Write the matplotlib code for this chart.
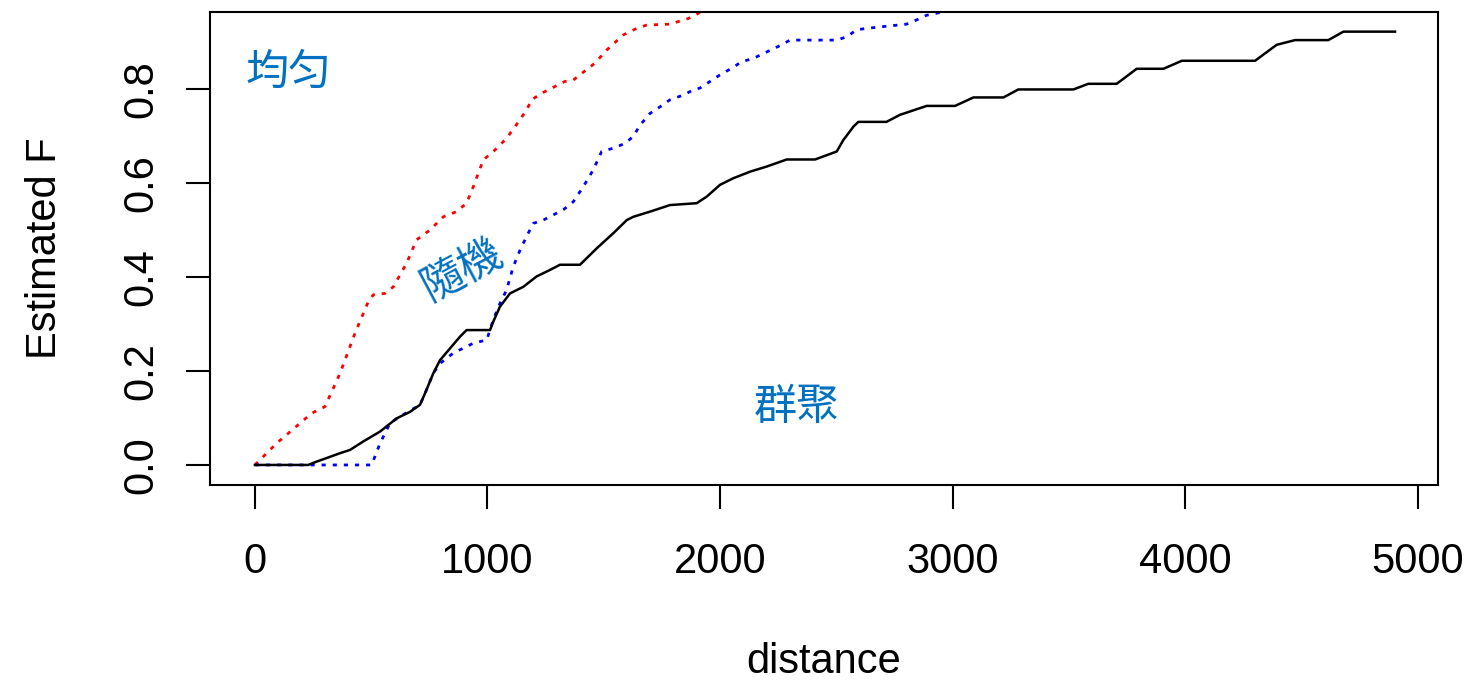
import matplotlib
matplotlib.use("Agg")
import matplotlib.pyplot as plt

# estimated F function for three point patterns
red_r = [0, 93, 244, 301, 366, 430, 487, 509, 559, 595, 652, 695, 753, 810, 867, 910, 939, 982,
         1032, 1082, 1133, 1168, 1190, 1233, 1333, 1369, 1462, 1513, 1584, 1642, 1685, 1785, 1864,
         1907, 1960]
red_F = [0, 0.046, 0.110, 0.124, 0.195, 0.280, 0.347, 0.362, 0.365, 0.379, 0.429, 0.479, 0.500,
         0.528, 0.539, 0.557, 0.592, 0.649, 0.670, 0.695, 0.730, 0.755, 0.777, 0.791, 0.816, 0.819,
         0.855, 0.883, 0.915, 0.929, 0.936, 0.938, 0.950, 0.961, 0.985]

blue_r = [0, 502, 538, 581, 624, 710, 738, 767, 796, 853, 939, 997, 1025, 1054, 1082, 1111, 1140,
          1168, 1197, 1240, 1326, 1369, 1412, 1455, 1491, 1541, 1591, 1627, 1656, 1699, 1742, 1785,
          1842, 1885, 1914, 2000, 2050, 2093, 2143, 2265, 2301, 2502, 2545, 2588, 2631, 2803, 2846,
          2889, 2939, 2990]
blue_F = [0, 0, 0.046, 0.089, 0.103, 0.128, 0.160, 0.195, 0.216, 0.238, 0.259, 0.266, 0.309,
          0.344, 0.372, 0.422, 0.457, 0.486, 0.514, 0.521, 0.543, 0.560, 0.592, 0.628, 0.667,
          0.674, 0.684, 0.699, 0.723, 0.748, 0.762, 0.777, 0.787, 0.798, 0.802, 0.830, 0.844,
          0.858, 0.865, 0.894, 0.904, 0.904, 0.911, 0.926, 0.929, 0.938, 0.947, 0.957, 0.962, 0.975]

black_r = [0, 229, 265, 366, 409, 466, 538, 609, 667, 710, 738, 767, 796, 839, 882, 910, 1011,
           1025, 1054, 1097, 1154, 1211, 1269, 1312, 1398, 1470, 1541, 1599, 1627, 1699, 1785,
           1900, 1943, 2000, 2057, 2129, 2201, 2287, 2409, 2502, 2530, 2574, 2595, 2716, 2774,
           2889, 3011, 3090, 3219, 3283, 3520, 3584, 3706, 3792, 3907, 3986, 4301, 4394, 4473,
           4616, 4681, 4903]
black_F = [0, 0, 0.007, 0.025, 0.032, 0.050, 0.071, 0.099, 0.113, 0.128, 0.160, 0.195, 0.223,
           0.248, 0.273, 0.287, 0.287, 0.305, 0.337, 0.365, 0.379, 0.401, 0.415, 0.426, 0.426,
           0.461, 0.493, 0.521, 0.528, 0.539, 0.553, 0.557, 0.571, 0.596, 0.610, 0.624, 0.635,
           0.650, 0.650, 0.667, 0.691, 0.720, 0.730, 0.730, 0.745, 0.764, 0.764, 0.782, 0.782,
           0.799, 0.799, 0.811, 0.811, 0.843, 0.843, 0.860, 0.860, 0.894, 0.904, 0.904, 0.922,
           0.922]

x_ticks = [0, 1000, 2000, 3000, 4000, 5000]
y_ticks = [0.0, 0.2, 0.4, 0.6, 0.8]

labels = ["均匀", "隨機", "群聚"]
label_pos = [(146, 0.834), (892, 0.414), (2331, 0.121)]
label_rot = [0, 28, 0]

plt.rcParams["font.family"] = ["Liberation Sans", "DejaVu Sans"]

fig = plt.figure(figsize=(14.65, 6.82), dpi=100)
ax = fig.add_axes([0.1433, 0.2889, 0.8383, 0.6935])

dots = (0, (1.5, 2.5))
ax.plot(red_r, red_F, color="red", lw=2, linestyle=dots)
ax.plot(blue_r, blue_F, color="blue", lw=2, linestyle=dots)
ax.plot(black_r, black_F, color="black", lw=1.8)

ax.set_xlim(-193.5, 5088)
ax.set_ylim(-0.0426, 0.9638)

ax.set_xticks(x_ticks)
ax.set_xticklabels([str(t) for t in x_ticks])
ax.set_yticks(y_ticks)
ax.set_yticklabels([f"{t:.1f}" for t in y_ticks], rotation=90, va="center")
ax.tick_params(length=17.3, width=1.5, labelsize=30, colors="black")
ax.tick_params(axis="x", pad=24)
ax.tick_params(axis="y", pad=18)

for s in ax.spines.values():
    s.set_linewidth(1.5)

ax.set_xlabel("distance", fontsize=30)
ax.set_ylabel("Estimated F", fontsize=30)
ax.xaxis.set_label_coords(0.5, -0.332)
ax.yaxis.set_label_coords(-0.118, 0.5)

for txt, (xp, yp), rot in zip(labels, label_pos, label_rot):
    ax.text(xp, yp, txt, color="#0070C0", fontsize=31, rotation=rot,
            ha="center", va="center", family=["Noto Sans CJK TC", "Noto Sans CJK SC"])

fig.savefig("out.png", dpi=100)
